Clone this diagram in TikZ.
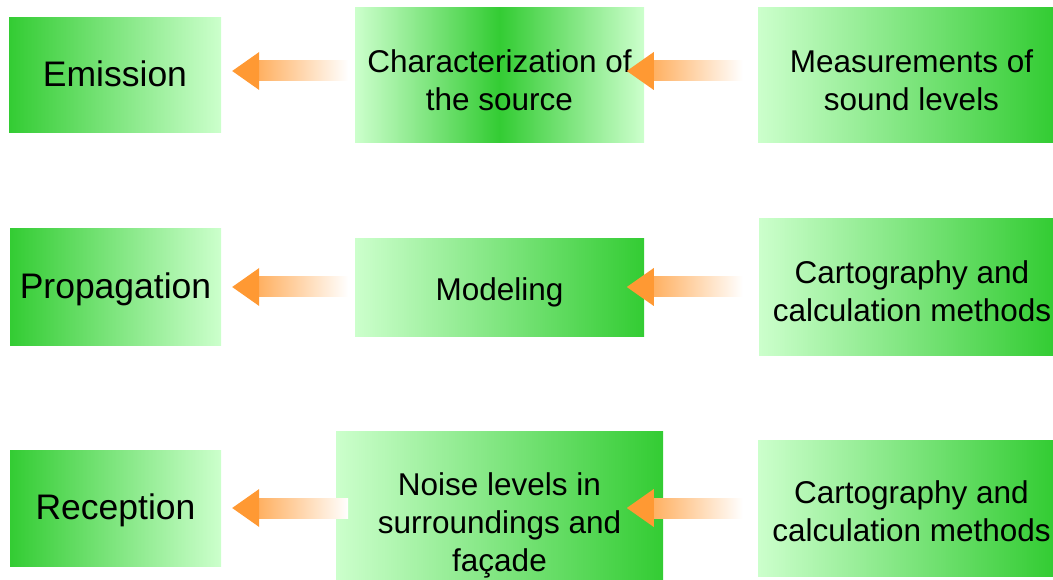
\documentclass[tikz,border=0pt]{standalone}
\usepackage{fontspec}
\setmainfont{Liberation Sans}
\definecolor{darkgreen}{RGB}{51,204,51}
\definecolor{palegreen}{RGB}{204,255,204}
\definecolor{arrorange}{RGB}{255,153,51}
\newcommand{\fadearrow}[1]{%
  \shade[left color=arrorange,right color=white] #1 ++(26,-10) rectangle ++(90,20);
  \fill[arrorange] #1 -- ++(27,19) -- ++(0,-38) -- cycle;}
\newcommand{\boxtext}[3][0pt]{%
  \raisebox{0pt}[\height][\dimexpr\depth-#2\relax]{\begin{tabular}{@{\hspace{#1}}c@{}}#3\end{tabular}}}
\begin{document}
\begin{tikzpicture}[x=1pt,y=-1pt,
    box/.style={rectangle,inner sep=0pt,font=\fontsize{31.5}{38}\selectfont},
    stage/.style={box,left color=darkgreen,right color=palegreen,font=\fontsize{35.5}{42}\selectfont},
    tool/.style={box,left color=palegreen,right color=darkgreen}]
    \useasboundingbox (0,0) rectangle (1053,580);
    \node[stage,minimum width=212pt,minimum height=115pt] (emi) at (115,75.5) {\boxtext{6pt}{Emission}};
    \node[box,minimum width=289pt,minimum height=135pt,
      left color=palegreen,right color=palegreen,middle color=darkgreen] (char) at (499.5,75.5)
      {\boxtext{16pt}{Characterization of\\the source}};
    \node[tool,minimum width=295pt,minimum height=135pt] (meas) at (905.5,75.5)
      {\boxtext[12pt]{16pt}{Measurements of\\sound levels}};
    \node[stage,minimum width=211pt,minimum height=116pt] (prop) at (115.5,287) {\boxtext{6pt}{Propagation}};
    \node[tool,minimum width=289pt,minimum height=97pt] (model) at (499.5,287.5) {\boxtext{10pt}{Modeling}};
    \node[tool,minimum width=294pt,minimum height=136pt] (cart1) at (906,287)
      {\boxtext[12pt]{16pt}{Cartography and\\calculation methods}};
    \node[stage,minimum width=211pt,minimum height=116pt] (rec) at (115.5,508) {\boxtext{7pt}{Reception}};
    \node[tool,minimum width=327pt,minimum height=149pt] (noise) at (499.5,505.5)
      {\boxtext{40pt}{Noise levels in\\surroundings and\\façade}};
    \node[tool,minimum width=295pt,minimum height=136pt] (cart2) at (905.5,508)
      {\boxtext[12pt]{14pt}{Cartography and\\calculation methods}};
    \fadearrow{([xshift=11pt,yshift=4.5pt]emi.east)}
    \fadearrow{([xshift=-131pt,yshift=4.5pt]meas.west)}
    \fadearrow{([xshift=11pt]prop.east)}
    \fadearrow{([xshift=-132pt]cart1.west)}
    \fadearrow{([xshift=11pt]rec.east)}
    \fadearrow{([xshift=-131pt]cart2.west)}
\end{tikzpicture}
\end{document}
